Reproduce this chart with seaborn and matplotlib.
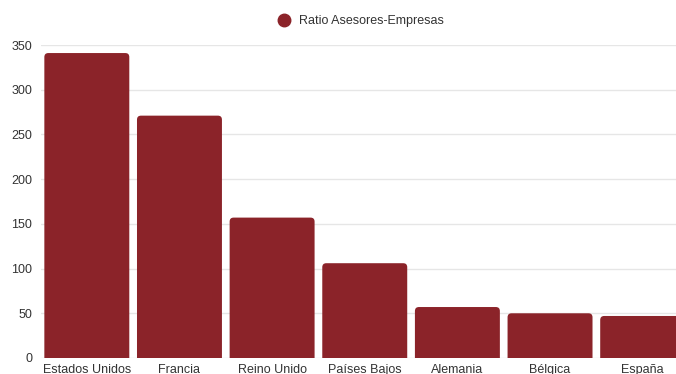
import matplotlib
matplotlib.use("Agg")
import matplotlib.pyplot as plt
import seaborn as sns
import pandas as pd
from matplotlib.patches import FancyBboxPatch
from matplotlib.lines import Line2D

paises = ["Estados Unidos", "Francia", "Reino Unido", "Países Bajos", "Alemania", "Bélgica", "España"]
ratio = [341, 271, 157, 106, 57, 50, 47]
serie = "Ratio Asesores-Empresas"
color = "#8B2329"

sns.set_theme(style="white")
plt.rcParams['font.family'] = ['Liberation Sans', 'DejaVu Sans']

df = pd.DataFrame({"pais": paises, "ratio": ratio})

W, H = 676, 374
fig = plt.figure(figsize=(W / 100, H / 100), dpi=100)
left, right, top, bottom = 40.5, 689, 45, 358
ax = fig.add_axes([left / W, (H - bottom) / H, (right - left) / W, (bottom - top) / H])

sns.barplot(data=df, x="pais", y="ratio", color=color, width=0.917, ax=ax, saturation=1)

ax.set_ylim(0, 350)
ax.set_xlim(-0.5, len(paises) - 0.5)

# rounded tops
px_x = (right - left) / len(paises)
px_y = (bottom - top) / 350
rad_px = 4
for p in list(ax.patches):
    x, y = p.get_x(), p.get_y()
    w, h = p.get_width(), p.get_height()
    rx = rad_px / px_x
    ry = rad_px / px_y
    fb = FancyBboxPatch((x + rx, y - 20), w - 2 * rx, h + 20 - ry,
                        boxstyle=f"round,pad={rx}", mutation_aspect=ry / rx,
                        facecolor=color, edgecolor="none", zorder=2, clip_on=True)
    p.remove()
    ax.add_patch(fb)

ax.set_yticks([0, 50, 100, 150, 200, 250, 300, 350])
ax.yaxis.grid(True, color="#e6e6e6", linewidth=1)
ax.set_axisbelow(True)
for s in ax.spines.values():
    s.set_visible(False)
ax.set_xlabel("")
ax.set_ylabel("")
ax.tick_params(axis="both", length=0, labelsize=9, colors="#333333")
ax.tick_params(axis="x", pad=4)
ax.tick_params(axis="y", pad=6)

handle = Line2D([], [], marker="o", linestyle="none", markersize=9,
                markerfacecolor=color, markeredgecolor=color)
fig.legend([handle], [serie], loc="center", bbox_to_anchor=(358 / W, 1 - 21 / H),
           frameon=False, fontsize=9, handletextpad=0.2, labelcolor="#333333")

fig.savefig("out.png", dpi=100)
